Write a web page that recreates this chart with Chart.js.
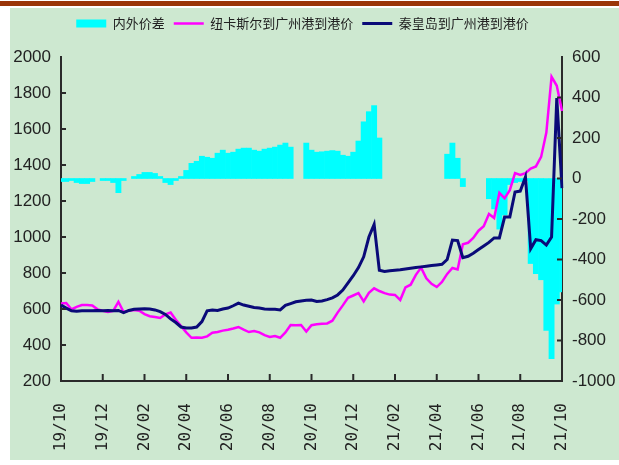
<!DOCTYPE html>
<html>
<head>
<meta charset="utf-8">
<script src="https://cdn.jsdelivr.net/npm/chart.js@4.4.0/dist/chart.umd.min.js"></script>
<style>
  html, body { margin: 0; padding: 0; background: #fff; }
  body { width: 619px; height: 465px; position: relative; overflow: hidden; }
  #topbar { position: absolute; left: 0; top: 1px; width: 619px; height: 5px; background: #9a3508; }
  #panel { position: absolute; left: 10px; top: 8px; width: 609px; height: 452px; background: #cde8d0; }
  #wrap { position: absolute; left: 10px; top: 8px; width: 609px; height: 450px; }
</style>
</head>
<body>
<div id="topbar"></div>
<div id="panel"></div>
<div id="wrap"><canvas id="chart"></canvas></div>
<script>
// 周度数据 2019/10 - 2021/10
const tickLabels = ['19/10', '19/12', '20/02', '20/04', '20/06', '20/08', '20/10', '20/12', '21/02', '21/04', '21/06', '21/08', '21/10'];

// 内外价差 (右轴), null = 无数据
const spread = [
  -15, -15, -10, -20, -25, -25, -15, null, -10, -10,
  -20, -70, -10, null, 10, 20, 30, 30, 25, 10,
  -20, -30, -10, 10, 40, 75, 85, 110, 105, 100,
  125, 140, 125, 130, 145, 150, 150, 140, 135, 145,
  150, 155, 165, 175, 155, null, null, 175, 140, 130,
  132, 135, 138, 135, 115, 110, 130, 185, 280, 330,
  360, 200, null, null, null, null, null, null, null, null,
  null, null, null, null, 120, 175, 100, -40, null, null,
  null, null, -100, -150, -250, -180, -30, -20, -15, -10,
  -420, -470, -500, -750, -890, -620, -560
];

// 纽卡斯尔到广州港到港价 (左轴)
const newcastle = [
  630, 633, 598, 612, 622, 622, 620, 598, 590, 583,
  590, 640, 583, 590, 595, 590, 572, 560, 555, 550,
  570, 580, 540, 505, 470, 440, 442, 440, 448, 468,
  472, 480, 485, 492, 500, 485, 472, 478, 470, 455,
  445, 450, 440, 470, 511, 510, 511, 475, 510, 515,
  518, 520, 535, 580, 620, 662, 675, 688, 642, 690,
  715, 700, 688, 680, 678, 650, 720, 735, 790, 830,
  770, 740, 722, 750, 795, 828, 820, 960, 968, 995,
  1035, 1060, 1128, 1105, 1245, 1215, 1260, 1355, 1345, 1355,
  1380, 1392, 1445, 1580, 1890, 1840, 1700
];

// 秦皇岛到广州港到港价 (左轴)
const qinhuangdao = [
  622, 605, 590, 588, 590, 590, 590, 592, 590, 592,
  590, 592, 580, 592, 598, 600, 602, 600, 595, 585,
  570, 545, 525, 500, 495, 495, 500, 530, 590, 595,
  592, 600, 605, 618, 633, 622, 615, 608, 605, 600,
  598, 598, 595, 620, 630, 640, 645, 648, 650, 642,
  645, 652, 662, 678, 705, 745, 785, 830, 890, 1000,
  1070, 815, 808, 812, 815, 818, 822, 826, 830, 834,
  838, 842, 845, 848, 875, 983, 980, 885, 893, 910,
  930, 950, 970, 995, 995, 1111, 1111, 1250, 1255, 1333,
  935, 985, 980, 955, 1000, 1772, 1272
];

const weeks = spread.map((_, i) => i);

const tickFont = { family: "'Liberation Sans Narrow', 'Liberation Sans', sans-serif", size: 17 };
const axisColor = '#2a2a2a';

// 刻度线画在坐标轴内侧
const innerTicks = {
  id: 'innerTicks',
  afterDraw(chart) {
    const { ctx, chartArea } = chart;
    const x = chart.scales.x, y = chart.scales.y, y1 = chart.scales.y1;
    ctx.save();
    ctx.strokeStyle = axisColor;
    ctx.lineWidth = 2;
    ctx.beginPath();
    for (let i = 8; i < weeks.length; i += 8) {
      const px = x.getPixelForValue(i);
      ctx.moveTo(px, chartArea.bottom);
      ctx.lineTo(px, chartArea.bottom - 7);
    }
    y.ticks.forEach(t => {
      if (t.value <= y.min || t.value >= y.max) return;
      const py = y.getPixelForValue(t.value);
      ctx.moveTo(chartArea.left, py);
      ctx.lineTo(chartArea.left + 5, py);
    });
    y1.ticks.forEach(t => {
      if (t.value <= y1.min || t.value >= y1.max) return;
      const py = y1.getPixelForValue(t.value);
      ctx.moveTo(chartArea.right, py);
      ctx.lineTo(chartArea.right - 5, py);
    });
    ctx.stroke();
    ctx.restore();
  }
};

// 图例高度和位置微调
const legendTweak = {
  id: 'legendTweak',
  afterInit(chart) {
    const lg = chart.legend;
    const fit = lg.fit;
    lg.fit = function () { fit.call(this); this.height = 49; };
    const draw = lg.draw;
    lg.draw = function () {
      const c = this.ctx;
      c.save();
      c.translate(-12, 0);
      draw.call(this);
      c.restore();
    };
  }
};

new Chart(document.getElementById('chart'), {
  type: 'bar',
  data: {
    labels: weeks,
    datasets: [
      {
        type: 'bar',
        label: '内外价差',
        data: spread,
        yAxisID: 'y1',
        backgroundColor: '#00ffff',
        borderWidth: 0,
        barPercentage: 1,
        categoryPercentage: 1,
        pointStyle: 'rect',
        order: 3
      },
      {
        type: 'line',
        label: '纽卡斯尔到广州港到港价',
        data: newcastle,
        yAxisID: 'y',
        borderColor: '#ff00ff',
        backgroundColor: '#ff00ff',
        borderWidth: 2.5,
        pointRadius: 0,
        tension: 0,
        pointStyle: 'line',
        order: 2
      },
      {
        type: 'line',
        label: '秦皇岛到广州港到港价',
        data: qinhuangdao,
        yAxisID: 'y',
        borderColor: '#0a0a78',
        backgroundColor: '#0a0a78',
        borderWidth: 3,
        pointRadius: 0,
        tension: 0,
        pointStyle: 'line',
        order: 1
      }
    ]
  },
  options: {
    responsive: true,
    maintainAspectRatio: false,
    animation: false,
    layout: { padding: { top: 0, left: 0, right: 0, bottom: 0 } },
    plugins: {
      tooltip: { enabled: false },
      legend: {
        position: 'top',
        align: 'center',
        labels: {
          usePointStyle: true,
          pointStyleWidth: 30,
          boxHeight: 8,
          padding: 9,
          color: '#222',
          font: { family: "'Noto Sans CJK SC', sans-serif", size: 13 },
          sort: (a, b) => a.datasetIndex - b.datasetIndex
        }
      }
    },
    scales: {
      x: {
        type: 'category',
        offset: false,
        grid: { display: false, drawTicks: false },
        border: { display: true, color: axisColor, width: 2 },
        ticks: {
          autoSkip: false,
          maxRotation: 90,
          minRotation: 90,
          padding: 22,
          color: '#222',
          font: { family: "'DejaVu Sans Mono', monospace", size: 16 },
          callback: (v, i) => (i % 8 === 0 ? tickLabels[i / 8] : null)
        },
        afterFit: s => { s.height = 77; }
      },
      y: {
        position: 'left',
        min: 200,
        max: 2000,
        grid: { display: false, drawTicks: false },
        border: { display: true, color: axisColor, width: 2 },
        ticks: { stepSize: 200, padding: 10, color: '#222', font: tickFont, callback: v => String(v) },
        afterFit: s => { s.width = 51; }
      },
      y1: {
        position: 'right',
        min: -1000,
        max: 600,
        grid: { display: false, drawTicks: false },
        border: { display: true, color: axisColor, width: 2 },
        ticks: { stepSize: 200, padding: 10, color: '#222', font: tickFont, callback: v => String(v) },
        afterFit: s => { s.width = 57; }
      }
    }
  },
  plugins: [innerTicks, legendTweak]
});
</script>
</body>
</html>
